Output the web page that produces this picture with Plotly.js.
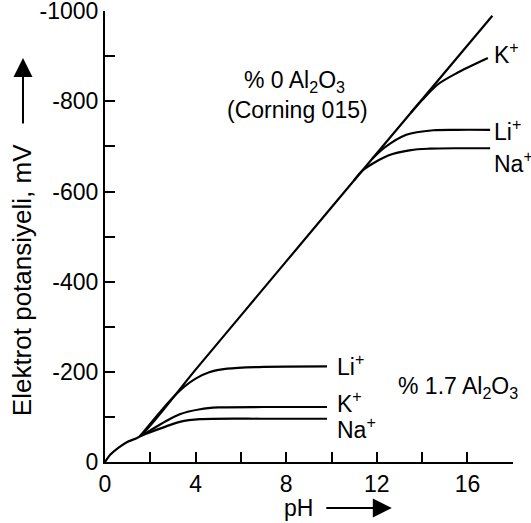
<!DOCTYPE html>
<html>
<head>
<meta charset="utf-8">
<script src="https://cdn.plot.ly/plotly-3.0.1.min.js"></script>
<style>html,body{margin:0;padding:0;background:#fff;}#chart{width:531px;height:523px;}</style>
</head>
<body>
<div id="chart"></div>
<script>
// Main (Nernstian) line, shared by all glasses
const mainPH = [0, 0.25, 0.6, 1.0, 1.54, 4, 8, 12, 17.1];
const mainE  = [0, -17, -32, -45, -57, -205, -445, -685, -990];

// % 1.7 Al2O3 glass
const lowLiPH = [1.54, 2.5, 3.0, 3.5, 4.0, 4.6, 5.4, 7, 9.8];
const lowLiE  = [-57, -115, -143, -167, -185, -199, -207, -211, -212];
const lowKPH  = [1.54, 2.0, 2.7, 3.3, 4.2, 5.0, 7, 9.8];
const lowKE   = [-57, -70, -91, -106, -117, -121, -122, -122];
const lowNaPH = [1.54, 2.0, 2.7, 3.3, 4.2, 7, 9.8];
const lowNaE  = [-57, -66, -79, -89, -95, -96, -96];

// % 0 Al2O3 glass (Corning 015)
const upNaPH = [11.0, 11.4, 12.5, 13.5, 14.3, 15.5, 17.0];
const upNaE  = [-625, -648, -680, -692, -695, -696, -696];
const upLiPH = [11.8, 12.35, 13.3, 14.5, 15.5, 17.0];
const upLiE  = [-673, -698, -726, -736, -737, -737];
const upKPH  = [13.5, 14.0, 14.7, 15.5, 16.9];
const upKE   = [-775, -803, -838, -862, -896];

// ticks
const xTickVals = [0, 2, 4, 6, 8, 10, 12, 14, 16, 18];
const xTickText = ['0', '', '4', '', '8', '', '12', '', '16', ''];
const yTickVals = [0, -100, -200, -300, -400, -500, -600, -700, -800, -900, -1000];
const yTickText = ['0', '', '-200', '', '-400', '', '-600', '', '-800', '', '-1000'];

const FONT = 'Arial, "Liberation Sans", Helvetica, sans-serif';
const FS = 23;
const lineStyle = {color: '#000', width: 2.2, shape: 'spline', smoothing: 0.8};

function tr(x, y) {
  return {x: x, y: y, type: 'scatter', mode: 'lines', line: lineStyle, hoverinfo: 'skip', showlegend: false, cliponaxis: false};
}

const data = [
  tr(mainPH, mainE),
  tr(lowLiPH, lowLiE), tr(lowKPH, lowKE), tr(lowNaPH, lowNaE),
  tr(upNaPH, upNaE), tr(upLiPH, upLiE), tr(upKPH, upKE)
];

function lab(text, x, y, anchor) {
  return {text: text, x: x, y: y, xref: 'x', yref: 'y', showarrow: false,
          xanchor: anchor || 'left', yanchor: 'middle', font: {family: FONT, size: FS, color: '#000'}};
}

const annotations = [
  lab('Li<sup>+</sup>', 10.15, -215),
  lab('K<sup>+</sup>', 10.15, -133),
  lab('Na<sup>+</sup>', 10.15, -75),
  lab('K<sup>+</sup>', 17.1, -907),
  lab('Li<sup>+</sup>', 17.1, -736),
  lab('Na<sup>+</sup>', 17.1, -665),
  lab('% 0 Al<sub>2</sub>O<sub>3</sub>', 8.38, -845, 'center'),
  lab('(Corning 015)', 8.5, -780, 'center'),
  lab('% 1.7 Al<sub>2</sub>O<sub>3</sub>', 12.85, -166),
  // axis titles
  {text: 'Elektrot potansiyeli, mV', xref: 'paper', yref: 'paper', x: -0.203, y: 0.4035,
   textangle: -90, showarrow: false, xanchor: 'center', yanchor: 'middle',
   font: {family: FONT, size: 26, color: '#000'}},
  {text: '', xref: 'paper', yref: 'paper', x: -0.201, y: 0.896, ax: 0, ay: 67,
   showarrow: true, arrowhead: 2, arrowsize: 1.9, arrowwidth: 2, arrowcolor: '#000'},
  {text: 'pH', xref: 'paper', yref: 'paper', x: 0.475, y: -0.102, showarrow: false,
   xanchor: 'center', yanchor: 'middle', font: {family: FONT, size: FS, color: '#000'}},
  {text: '', xref: 'paper', yref: 'paper', x: 0.703, y: -0.102, ax: -67, ay: 0,
   showarrow: true, arrowhead: 2, arrowsize: 1.9, arrowwidth: 2, arrowcolor: '#000'}
];

const layout = {
  width: 531, height: 523,
  margin: {l: 105, r: 18, t: 11, b: 61, pad: 0},
  paper_bgcolor: '#fff', plot_bgcolor: '#fff',
  showlegend: false,
  font: {family: FONT, size: FS, color: '#000'},
  xaxis: {
    range: [0, 18.01], showgrid: false, zeroline: false,
    showline: true, linecolor: '#000', linewidth: 2,
    tickmode: 'array', tickvals: xTickVals, ticktext: xTickText,
    ticks: 'inside', ticklen: 10, tickwidth: 2, tickcolor: '#000',
    ticklabeloverflow: 'allow',
    tickfont: {family: FONT, size: FS, color: '#000'}
  },
  yaxis: {
    range: [0, -1000.5], showgrid: false, zeroline: false,
    showline: true, linecolor: '#000', linewidth: 2,
    tickmode: 'array', tickvals: yTickVals, ticktext: yTickText,
    ticks: 'inside', ticklen: 10, tickwidth: 2, tickcolor: '#000',
    ticklabeloverflow: 'allow',
    tickfont: {family: FONT, size: FS, color: '#000'}
  },
  annotations: annotations
};

Plotly.newPlot('chart', data, layout, {staticPlot: true, displayModeBar: false});
</script>
</body>
</html>
